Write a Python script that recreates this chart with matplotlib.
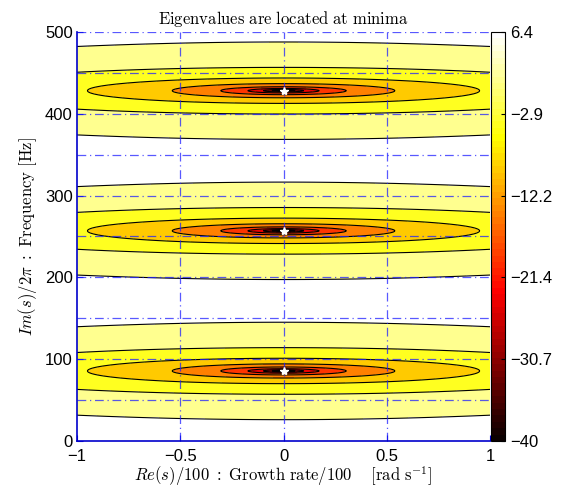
import numpy as np
import matplotlib
matplotlib.use('Agg')
import matplotlib.pyplot as plt
from matplotlib import colors as mcolors
from matplotlib.cm import ScalarMappable

plt.rcParams['font.family'] = ['Liberation Sans', 'DejaVu Sans']
plt.rcParams['mathtext.fontset'] = 'cm'

# eigenvalues (minima of the determinant)
eig_freq = [85.6, 256.9, 428.2]      # Im(s)/2pi [Hz]
eig_growth = [0.0, 0.0, 0.0]         # Re(s)/100

# contour levels and colour range
levels = [-40, -35, -30, -25, -20, -15, -10, -5, 0, 5, 6.4]
f_min, f_max = -40, 6.4
cbar_ticks = [-40, -30.7, -21.4, -12.2, -2.9, 6.4]
cbar_labels = ['\u221240', '\u221230.7', '\u221221.4', '\u221212.2', '\u22122.9', '6.4']

x_ticks = [-1, -0.5, 0, 0.5, 1]
x_labels = ['\u22121', '\u22120.5', '0', '0.5', '1']
y_ticks = [0, 100, 200, 300, 400, 500]
grid_x = [-0.5, 0, 0.5]
grid_y = [50, 100, 150, 200, 250, 300, 350, 400, 450, 500]

# determinant map, |sin| of the complex frequency, zero at each eigenvalue
period = eig_freq[1] - eig_freq[0]
x = np.linspace(-1, 1, 41)
y = np.linspace(0, 500, 801)
X, Y = np.meshgrid(x, y)
g = np.sin(np.pi * (Y - eig_freq[0]) / period) ** 2 + np.sinh(50 * X / period) ** 2
offset = f_max - 10 * np.log10(1 + np.sinh(50 / period) ** 2)
F = np.clip(10 * np.log10(g + 1e-12) + offset, f_min, f_max)

cmap = plt.get_cmap('hot', 64)
norm = mcolors.Normalize(f_min, f_max)
# each band takes the colour of its lower level (levels scaled to -40..5)
fill_norm = mcolors.Normalize(levels[0], levels[-2])
band_colors = [cmap(min(fill_norm(lv), 0.9999)) for lv in levels[:-1]]

fig = plt.figure(figsize=(5.61, 5.01), dpi=100)
ax = fig.add_axes([0.1373, 0.1198, 0.7362, 0.8164])

ax.contourf(X, Y, F, levels=levels, colors=band_colors)
ax.contour(X, Y, F, levels=levels[1:-1], colors='k', linewidths=0.8,
           linestyles='solid')

for yy in grid_y:
    ax.axhline(yy, color='#2020ff', ls=(0, (7, 3, 1, 3)), lw=0.9, alpha=0.75)
for xx in grid_x:
    ax.axvline(xx, color='#2020ff', ls=(0, (7, 3, 1, 3)), lw=0.9, alpha=0.75)

ax.plot(eig_growth, eig_freq, '*', color='white', mec='white', ms=6)

ax.set_xlim(-1, 1)
ax.set_ylim(0, 500)
ax.set_xticks(x_ticks)
ax.set_xticklabels(x_labels)
ax.set_yticks(y_ticks)
ax.tick_params(direction='in', length=4, color='#0000cc', labelsize=12, pad=3)
ax.tick_params(axis='x', pad=6)
for s in ['top', 'right']:
    ax.spines[s].set_visible(False)
for s in ['left', 'bottom']:
    ax.spines[s].set_color('#0000cc')
    ax.spines[s].set_linewidth(1.2)

ax.set_title(r'$\mathrm{Eigenvalues\ are\ located\ at\ minima}$', fontsize=12, pad=6)
ax.set_ylabel(r'$Im(s)/2\pi\ \mathrm{:\ Frequency\ [Hz]}$', fontsize=12, labelpad=4)
ax.set_xlabel(r'$Re(s)/100\ \mathrm{:\ Growth\ rate/100\quad\ [rad\ s}^{-1}\mathrm{]}$',
              fontsize=12, labelpad=0)

cax = fig.add_axes([0.8752, 0.1198, 0.025, 0.8164])
sm = ScalarMappable(norm=norm, cmap=cmap)
cb = fig.colorbar(sm, cax=cax, ticks=cbar_ticks)
cb.set_ticklabels(cbar_labels)
cb.ax.tick_params(direction='in', length=3, labelsize=12, pad=4)
cb.outline.set_linewidth(0.8)

fig.savefig('out.png', dpi=100)
